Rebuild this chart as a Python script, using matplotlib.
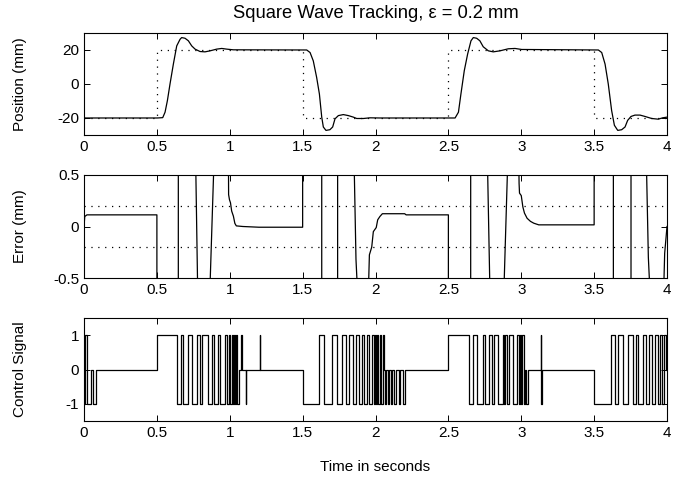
import numpy as np
import matplotlib
matplotlib.use("Agg")
import matplotlib.pyplot as plt

plt.rcParams['font.family'] = ['Liberation Sans', 'DejaVu Sans']
plt.rcParams['font.size'] = 11
plt.rcParams['axes.unicode_minus'] = False

# reference square wave (mm)
ref_t = [0, 0.5, 1.5, 2.5, 3.5, 4.0]
ref_v = [-20, 20, -20, 20, -20, -20]

pos_t = [0, 0.503, 0.54, 0.556, 0.572, 0.590, 0.613, 0.636, 0.659, 0.670, 0.693, 0.716,
         0.739, 0.762, 0.796, 0.830, 0.865, 0.910, 0.945, 0.979, 1.025, 1.528,
         1.551, 1.573, 1.596, 1.615, 1.631, 1.642, 1.660, 1.687, 1.706, 1.722, 1.745,
         1.779, 1.814, 1.848, 1.871, 1.917, 1.962, 2.03, 2.546,
         2.569, 2.586, 2.609, 2.632, 2.655, 2.671, 2.694, 2.716, 2.739, 2.774, 2.808,
         2.854, 2.911, 2.957, 3.003, 3.529,
         3.552, 3.575, 3.597, 3.620, 3.639, 3.662, 3.689, 3.712, 3.730, 3.753, 3.780,
         3.815, 3.849, 3.895, 3.94, 3.97, 4.0]
pos_v = [-20, -20, -19.8, -16.6, -9.8, 0, 11.7, 22.4, 26.3, 27.3, 26.9, 25.4,
         22.4, 20.5, 19.1, 18.9, 19.5, 20.5, 20.9, 20.5, 20.1, 20,
         18.5, 13.6, 3.9, -5.9, -19.5, -25.3, -27.3, -26.9, -25.3, -20.5, -18.6,
         -18.0, -18.6, -19.5, -20.3, -20.3, -19.9, -20, -20,
         -16.6, -5.9, 7.8, 17.6, 25.4, 27.3, 26.9, 25.4, 21.9, 19.5, 18.9,
         19.5, 20.7, 20.9, 20.3, 20,
         18.5, 11.7, 0, -15.6, -24.3, -27.3, -26.9, -25.3, -21.4, -19.1, -18.3,
         -18.3, -19.1, -20.3, -20.7, -19.9, -19.5]

# tracking error (mm); +/-1 marks where the trace leaves the axes
err_t = [0, 0.005, 0.02, 0.5, 0.5, 0.647, 0.647, 0.762, 0.784, 0.855, 0.90, 0.99,
         0.992, 0.998, 1.005, 1.013, 1.025, 1.035, 1.045, 1.09, 1.2, 1.5, 1.5,
         1.631, 1.631, 1.74, 1.74, 1.848, 1.866, 1.889, 1.944, 1.958, 1.974, 1.985,
         1.99, 2.005, 2.015, 2.03, 2.047, 2.2, 2.21, 2.5, 2.5,
         2.653, 2.653, 2.763, 2.79, 2.873, 2.915, 2.98, 2.985, 2.988, 3.0, 3.011,
         3.022, 3.04, 3.063, 3.086, 3.12, 3.5, 3.5,
         3.632, 3.632, 3.753, 3.753, 3.853, 3.872, 3.895, 3.97, 3.984, 4.0]
err_v = [0, 0.097, 0.113, 0.113, -1, -1, 1, 1, -1, -1, 1, 1,
         0.31, 0.26, 0.23, 0.15, 0.10, 0.03, 0.006, 0.0, -0.007, -0.007, 1,
         1, -1, -1, 1, 1, -0.32, -1, -1, -0.275, -0.2, -0.05,
         -0.04, -0.01, 0.065, 0.097, 0.124, 0.124, 0.113, 0.113, -1,
         -1, 1, 1, -1, -1, 1, 1, 0.42, 0.324, 0.3, 0.19,
         0.13, 0.08, 0.05, 0.032, 0.016, 0.016, 1,
         1, -1, -1, 1, 1, -0.30, -1, -1, -0.26, 0.0]
eps = 0.2

# control signal switching times and levels (step after each time)
u_t = [0, 0.005, 0.02, 0.05, 0.06, 0.082, 0.5,
       0.636, 0.666, 0.681, 0.716, 0.739, 0.778, 0.796, 0.807, 0.853, 0.876, 0.892,
       0.917, 0.933, 0.967, 0.983, 0.995, 1.005, 1.012, 1.02, 1.03, 1.035, 1.045,
       1.05, 1.06, 1.08, 1.083, 1.109, 1.112, 1.2075, 1.21, 1.5,
       1.615, 1.649, 1.699, 1.733, 1.772, 1.795, 1.818, 1.848, 1.864, 1.887, 1.905,
       1.924, 1.939, 1.955, 1.974, 1.988, 1.995, 2.005, 2.012, 2.02, 2.03, 2.04,
       2.05, 2.058, 2.062, 2.072, 2.084, 2.092, 2.105, 2.115, 2.13, 2.14, 2.16,
       2.168, 2.188, 2.203, 2.5,
       2.644, 2.671, 2.694, 2.735, 2.751, 2.781, 2.797, 2.813, 2.843, 2.872, 2.882,
       2.888, 2.900, 2.918, 2.941, 2.968, 2.982, 2.99, 3.0, 3.008, 3.018, 3.026,
       3.035, 3.048, 3.133, 3.135, 3.137, 3.139, 3.5,
       3.616, 3.643, 3.662, 3.701, 3.735, 3.769, 3.785, 3.803, 3.838, 3.854, 3.877,
       3.899, 3.918, 3.936, 3.952, 3.968, 3.982, 3.991, 4.0]
u_v = [-1, 1, -1, 0, -1, 0, 1,
       -1, 1, -1, 1, -1, 1, -1, 1, -1, 1, -1,
       1, -1, 1, -1, 1, -1, 1, -1, 1, -1, 1,
       -1, 0, 1, 0, -1, 0, 1, 0, -1,
       1, -1, 1, -1, 1, -1, 1, -1, 1, -1, 1,
       -1, 1, -1, 1, -1, 1, -1, 1, -1, 1, -1,
       1, 0, -1, 0, -1, 0, -1, 0, -1, 0, -1,
       0, -1, 0, 1,
       -1, 1, -1, 1, -1, 1, -1, 1, -1, 1, -1,
       1, -1, 1, -1, 1, -1, 1, -1, 1, -1, 0,
       -1, 0, 1, 0, -1, 0, -1,
       1, -1, 1, -1, 1, -1, 1, -1, 1, -1, 1,
       -1, 1, -1, 1, -1, 1, 0, 0]

xticks = np.arange(0, 4.01, 0.5)
xlabels = ['0', '0.5', '1', '1.5', '2', '2.5', '3', '3.5', '4']

fig = plt.figure(figsize=(6.87, 4.78), dpi=100)
L, W = 0.1223, 0.8486
ax1 = fig.add_axes([L, 0.7176, W, 0.2134])
ax2 = fig.add_axes([L, 0.4184, W, 0.2155])
ax3 = fig.add_axes([L, 0.1192, W, 0.2155])

lw = 0.9
dots = (0, (1, 4.5))
ax1.plot(ref_t, ref_v, color='k', ls=dots, lw=lw, drawstyle='steps-post')
ax1.plot(pos_t, pos_v, color='k', lw=lw)
ax1.set_ylim(-30, 30)
ax1.set_yticks([-20, 0, 20])
ax1.set_ylabel('Position (mm)')
ax1.set_title('Square Wave Tracking, ε = 0.2 mm', pad=11)

ax2.plot(err_t, err_v, color='k', lw=lw)
ax2.axhline(eps, color='k', ls=dots, lw=lw)
ax2.axhline(-eps, color='k', ls=dots, lw=lw)
ax2.set_ylim(-0.5, 0.5)
ax2.set_yticks([-0.5, 0, 0.5])
ax2.set_yticklabels(['-0.5', '0', '0.5'])
ax2.set_ylabel('Error (mm)')

ax3.plot(u_t, u_v, color='k', lw=lw, drawstyle='steps-post')
ax3.set_ylim(-1.5, 1.5)
ax3.set_yticks([-1, 0, 1])
ax3.set_ylabel('Control Signal')
ax3.set_xlabel('Time in seconds')
ax3.xaxis.set_label_coords(0.5, -0.38)
ax3.xaxis.label.set_va('top')

for ax in (ax1, ax2, ax3):
    ax.set_xlim(0, 4)
    ax.set_xticks(xticks)
    ax.set_xticklabels(xlabels)
    ax.tick_params(direction='in', top=True, right=True, length=4.5, width=0.7)
    for s in ax.spines.values():
        s.set_linewidth(0.8)
    ax.yaxis.set_label_coords(-0.098, 0.5)

fig.savefig('out.png', dpi=100)
